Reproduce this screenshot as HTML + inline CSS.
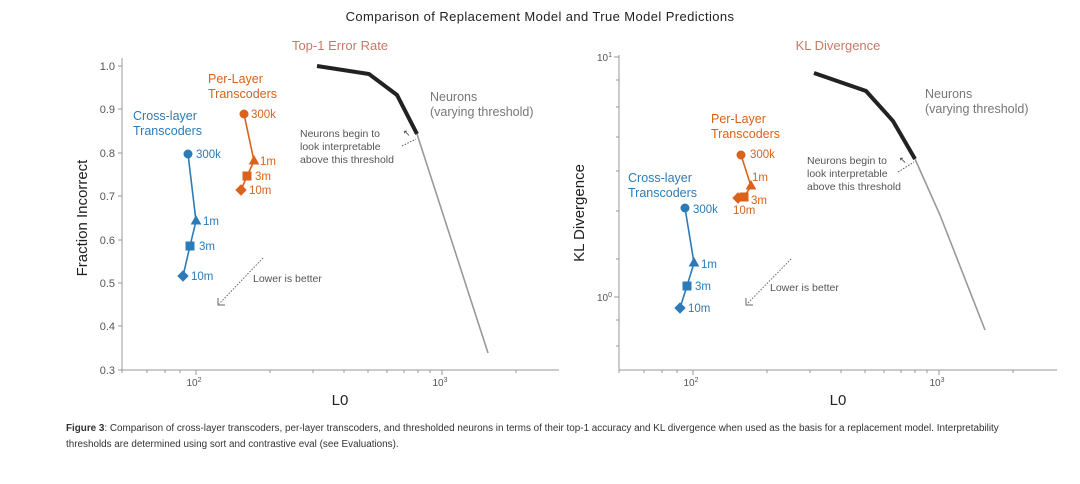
<!DOCTYPE html><html><head><meta charset="utf-8"><style>body{margin:0;background:#fff}svg{display:block}text{font-family:"Liberation Sans",sans-serif}</style></head><body>
<svg width="1080" height="484" viewBox="0 0 1080 484">
<defs>
<g id="c"><circle r="4"/></g>
<g id="t"><path d="M0,-5 L4.5,3 L-4.5,3Z"/></g>
<g id="s"><rect x="-4" y="-4" width="8" height="8"/></g>
<g id="d"><path d="M0,-5 L5,0 L0,5 L-5,0Z"/></g>
</defs>
<text x="540" y="21" text-anchor="middle" font-size="13" letter-spacing="0.4" fill="#222">Comparison of Replacement Model and True Model Predictions</text>

<!-- LEFT -->
<text x="340" y="50" text-anchor="middle" font-size="13" fill="#c87a66">Top-1 Error Rate</text>
<g stroke="#999" stroke-width="1" fill="none">
<path d="M122,58 V370 H559"/>
<path d="M118,66H122M118,109H122M118,153H122M118,196H122M118,240H122M118,283H122M118,326H122M118,370H122"/>
<path d="M196,370v5M442,370v5M122,370v3M147,370v3M165,370v3M180,370v3M270,370v3M313,370v3M344,370v3M368,370v3M387,370v3M404,370v3M418,370v3M430,370v3M516,370v3"/>
</g>
<g font-size="11" fill="#555" text-anchor="end">
<text x="115" y="70">1.0</text><text x="115" y="113">0.9</text><text x="115" y="157">0.8</text><text x="115" y="200">0.7</text><text x="115" y="244">0.6</text><text x="115" y="287">0.5</text><text x="115" y="330">0.4</text><text x="115" y="374">0.3</text>
</g>
<g font-size="10" fill="#555" text-anchor="middle"><text x="194" y="386">10<tspan font-size="7" dy="-4">2</tspan></text><text x="440" y="386">10<tspan font-size="7" dy="-4">3</tspan></text></g>
<text x="340" y="405" text-anchor="middle" font-size="15" fill="#222">L0</text>
<text transform="translate(87,218) rotate(-90)" text-anchor="middle" font-size="15" fill="#222">Fraction Incorrect</text>
<path d="M317,66 L369,74 L397,95 L417,134" stroke="#222" stroke-width="4" fill="none"/>
<path d="M417,134 L488,353" stroke="#999" stroke-width="1.6" fill="none"/>
<g fill="#2b7bb9" stroke="#2b7bb9"><path d="M188,154 L196,221 L190,246 L183,276" fill="none" stroke-width="1.6"/>
<use href="#c" x="188" y="154"/><use href="#t" x="196" y="221"/><use href="#s" x="190" y="246"/><use href="#d" x="183" y="276"/></g>
<g fill="#2b7bb9" font-size="11.5"><text x="196" y="158">300k</text><text x="203" y="225">1m</text><text x="199" y="250">3m</text><text x="191" y="280">10m</text>
<text x="133" y="120" font-size="12.5">Cross-layer</text><text x="133" y="135" font-size="12.5">Transcoders</text></g>
<g fill="#d9621c" stroke="#d9621c"><path d="M244,114 L254,161 L247,176 L241,190" fill="none" stroke-width="1.6"/>
<use href="#c" x="244" y="114"/><use href="#t" x="254" y="161"/><use href="#s" x="247" y="176"/><use href="#d" x="241" y="190"/></g>
<g fill="#d9621c" font-size="11.5"><text x="251" y="118">300k</text><text x="260" y="165">1m</text><text x="255" y="180">3m</text><text x="249" y="194">10m</text>
<text x="208" y="83" font-size="12.5">Per-Layer</text><text x="208" y="98" font-size="12.5">Transcoders</text></g>
<g fill="#777"><text x="430" y="101" font-size="12.5">Neurons</text><text x="430" y="116" font-size="12.5">(varying threshold)</text>
<g font-size="10.5" fill="#555"><text x="300" y="137">Neurons begin to</text><text x="300" y="150">look interpretable</text><text x="300" y="163">above this threshold</text><text x="253" y="282">Lower is better</text></g></g>
<path d="M402,146 L416,139" stroke="#555" stroke-dasharray="1.5,1.5" fill="none"/><text x="403" y="136" font-size="9" fill="#333">↖</text>
<path d="M263,258 L219,304" stroke="#666" stroke-dasharray="1.5,1.5" fill="none"/><path d="M218,298 V305 H225" stroke="#666" fill="none"/>

<!-- RIGHT -->
<text x="838" y="50" text-anchor="middle" font-size="13" fill="#c87a66">KL Divergence</text>
<g stroke="#999" stroke-width="1" fill="none">
<path d="M619,55 V370 H1057"/>
<path d="M614,57H619M614,297H619M616,80H619M616,107H619M616,137H619M616,171H619M616,211H619M616,259H619M616,320H619M616,346H619"/>
<path d="M693,370v5M939,370v5M619,370v3M644,370v3M662,370v3M677,370v3M767,370v3M810,370v3M841,370v3M865,370v3M884,370v3M901,370v3M915,370v3M927,370v3M1013,370v3"/>
</g>
<g font-size="10" fill="#555" text-anchor="end"><text x="612" y="61">10<tspan font-size="7" dy="-4">1</tspan></text><text x="612" y="301">10<tspan font-size="7" dy="-4">0</tspan></text></g>
<g font-size="10" fill="#555" text-anchor="middle"><text x="691" y="386">10<tspan font-size="7" dy="-4">2</tspan></text><text x="937" y="386">10<tspan font-size="7" dy="-4">3</tspan></text></g>
<text x="838" y="405" text-anchor="middle" font-size="15" fill="#222">L0</text>
<text transform="translate(584,213) rotate(-90)" text-anchor="middle" font-size="15" fill="#222">KL Divergence</text>
<path d="M814,73 L866,91 L893,121 L915,159" stroke="#222" stroke-width="4" fill="none"/>
<path d="M915,159 L940,215 L985,330" stroke="#999" stroke-width="1.6" fill="none"/>
<g fill="#2b7bb9" stroke="#2b7bb9"><path d="M685,208 L694,263 L687,286 L680,308" fill="none" stroke-width="1.6"/>
<use href="#c" x="685" y="208"/><use href="#t" x="694" y="263"/><use href="#s" x="687" y="286"/><use href="#d" x="680" y="308"/></g>
<g fill="#2b7bb9" font-size="11.5"><text x="693" y="213">300k</text><text x="701" y="268">1m</text><text x="695" y="290">3m</text><text x="688" y="312">10m</text>
<text x="628" y="182" font-size="12.5">Cross-layer</text><text x="628" y="197" font-size="12.5">Transcoders</text></g>
<g fill="#d9621c" stroke="#d9621c"><path d="M741,155 L751,186 L744,197 L738,198" fill="none" stroke-width="1.6"/>
<use href="#c" x="741" y="155"/><use href="#t" x="751" y="186"/><use href="#s" x="744" y="197"/><use href="#d" x="738" y="198"/></g>
<g fill="#d9621c" font-size="11.5"><text x="750" y="158">300k</text><text x="752" y="181">1m</text><text x="751" y="204">3m</text><text x="733" y="214">10m</text>
<text x="711" y="123" font-size="12.5">Per-Layer</text><text x="711" y="138" font-size="12.5">Transcoders</text></g>
<g fill="#777"><text x="925" y="98" font-size="12.5">Neurons</text><text x="925" y="113" font-size="12.5">(varying threshold)</text>
<g font-size="10.5" fill="#555"><text x="807" y="164">Neurons begin to</text><text x="807" y="177">look interpretable</text><text x="807" y="190">above this threshold</text><text x="770" y="291">Lower is better</text></g></g>
<path d="M898,172 L914,162" stroke="#555" stroke-dasharray="1.5,1.5" fill="none"/><text x="899" y="163" font-size="9" fill="#333">↖</text>
<path d="M791,259 L747,304" stroke="#666" stroke-dasharray="1.5,1.5" fill="none"/><path d="M746,298 V305 H753" stroke="#666" fill="none"/>

<g font-size="9.9" fill="#333"><text x="66" y="431"><tspan font-weight="bold">Figure 3</tspan>:   Comparison of cross-layer transcoders, per-layer transcoders, and thresholded neurons in terms of their top-1 accuracy and KL divergence when used as the basis for a replacement model. Interpretability</text>
<text x="66" y="447">thresholds are determined using sort and contrastive eval (see Evaluations).</text></g>
</svg></body></html>
